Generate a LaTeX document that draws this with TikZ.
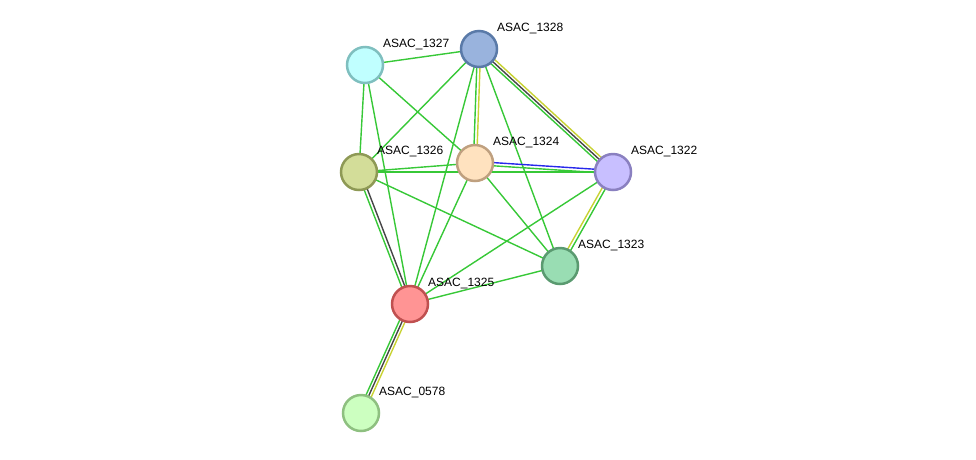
\documentclass[tikz,border=0pt]{standalone}
\usepackage{fontspec}
\setmainfont{Liberation Sans}
\usetikzlibrary{calc,backgrounds}
\definecolor{eg}{RGB}{55,200,55}
\definecolor{ek}{RGB}{70,70,70}
\definecolor{ey}{RGB}{200,210,50}
\definecolor{eb}{RGB}{40,40,235}
\tikzset{
  prot/.style={circle,minimum size=36pt,inner sep=0pt,line width=2.5pt},
  plabel/.style={anchor=west,inner sep=0pt,font=\fontsize{12pt}{14pt}\selectfont},
  edge/.style={line width=1.4pt}
}
\newcommand\pl[4]{\draw[edge,#4] ($(#1.center)!#3!90:(#2.center)$) -- ($(#2.center)!#3!-90:(#1.center)$);}
\begin{document}
\begin{tikzpicture}[x=1pt,y=-1pt]
\useasboundingbox (0,0) rectangle (976,459);
\node[prot,fill={rgb,255:red,192;green,255;blue,255},draw={rgb,255:red,127;green,191;blue,191}] (n1327) at (365,65) {};
\node[prot,fill={rgb,255:red,153;green,179;blue,221},draw={rgb,255:red,90;green,122;blue,168}] (n1328) at (479,49) {};
\node[prot,fill={rgb,255:red,211;green,221;blue,153},draw={rgb,255:red,142;green,153;blue,85}] (n1326) at (359,172) {};
\node[prot,fill={rgb,255:red,255;green,226;blue,191},draw={rgb,255:red,191;green,160;blue,127}] (n1324) at (475,163) {};
\node[prot,fill={rgb,255:red,200;green,191;blue,255},draw={rgb,255:red,138;green,128;blue,192}] (n1322) at (613,172) {};
\node[prot,fill={rgb,255:red,153;green,221;blue,179},draw={rgb,255:red,90;green,154;blue,112}] (n1323) at (560,266) {};
\node[prot,fill={rgb,255:red,255;green,148;blue,148},draw={rgb,255:red,192;green,80;blue,80}] (n1325) at (410,304) {};
\node[prot,fill={rgb,255:red,204;green,255;blue,192},draw={rgb,255:red,142;green,192;blue,128}] (n0578) at (361,413) {};
\foreach \n in {1327,1328,1326,1324,1322,1323,1325,0578}
  \node[plabel] (l\n) at ($(n\n.center)+(18,-21)$) {ASAC\_\n};
\begin{scope}[on background layer]
  \draw[edge,eg] (n1327.center) -- (n1328.center);
  \draw[edge,eg] (n1327.center) -- (n1326.center);
  \draw[edge,eg] (n1327.center) -- (n1325.center);
  \draw[edge,eg] (n1327.center) -- (n1324.center);
  \draw[edge,eg] (n1328.center) -- (n1326.center);
  \draw[edge,eg] (n1328.center) -- (n1325.center);
  \draw[edge,eg] (n1328.center) -- (n1323.center);
  \pl{n1328}{n1324}{-1.6pt}{eg}
  \pl{n1328}{n1324}{1.6pt}{ey}
  \pl{n1328}{n1322}{-2.8pt}{eg}
  \pl{n1328}{n1322}{0pt}{ek}
  \pl{n1328}{n1322}{2.8pt}{ey}
  \draw[edge,eg] (n1326.center) -- (n1324.center);
  \draw[edge,eg] (n1326.center) -- (n1322.center);
  \draw[edge,eg] (n1326.center) -- (n1323.center);
  \pl{n1326}{n1325}{-1.6pt}{eg}
  \pl{n1326}{n1325}{1.6pt}{ek}
  \pl{n1324}{n1322}{1.6pt}{eb}
  \pl{n1324}{n1322}{-1.6pt}{eg}
  \draw[edge,eg] (n1324.center) -- (n1325.center);
  \draw[edge,eg] (n1324.center) -- (n1323.center);
  \draw[edge,eg] (n1322.center) -- (n1325.center);
  \pl{n1322}{n1323}{-1.6pt}{ey}
  \pl{n1322}{n1323}{1.6pt}{eg}
  \draw[edge,eg] (n1323.center) -- (n1325.center);
  \pl{n1325}{n0578}{-2.8pt}{eg}
  \pl{n1325}{n0578}{0pt}{ek}
  \pl{n1325}{n0578}{2.8pt}{ey}
\end{scope}
\end{tikzpicture}
\end{document}
